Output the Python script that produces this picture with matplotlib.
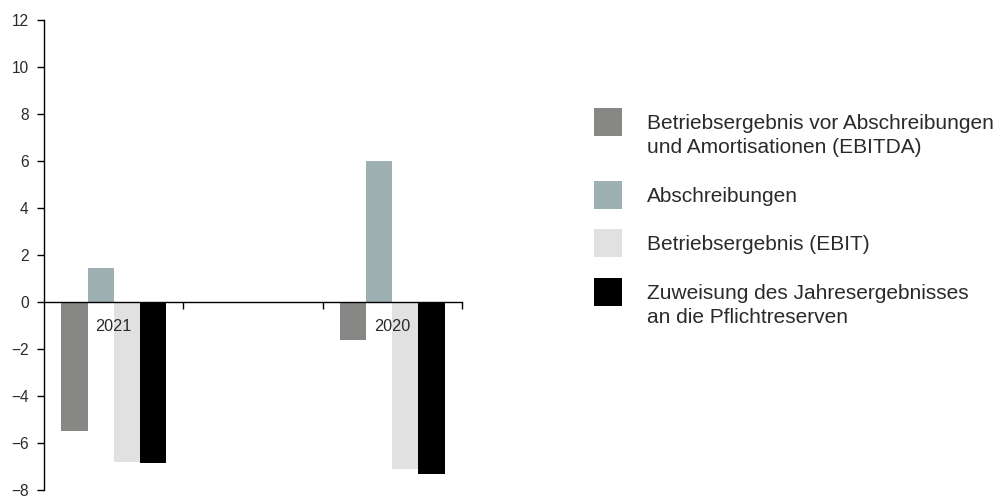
import numpy as np
import matplotlib.pyplot as plt
from matplotlib.patches import Rectangle

plt.rcParams['font.family'] = ['Liberation Sans', 'DejaVu Sans']

# categories (middle slot left empty as spacer)
years = ['2021', '', '2020']

series_names = [
    'Betriebsergebnis vor Abschreibungen\nund Amortisationen (EBITDA)',
    'Abschreibungen',
    'Betriebsergebnis (EBIT)',
    'Zuweisung des Jahresergebnisses\nan die Pflichtreserven',
]
series_colors = ['#878886', '#9fb0b2', '#e0e1e0', '#000000']

ebitda = [-5.5, np.nan, -1.6]
abschreibungen = [1.45, np.nan, 6.0]
ebit = [-6.8, np.nan, -7.1]
zuweisung = [-6.85, np.nan, -7.3]
values = [ebitda, abschreibungen, ebit, zuweisung]

yticks = [-8, -6, -4, -2, 0, 2, 4, 6, 8, 10, 12]
ytick_labels = ['\u22128', '\u22126', '\u22124', '\u22122', '0', '2', '4', '6', '8', '10', '12']

text_col = '#2a2a2a'

fig = plt.figure(figsize=(10.02, 4.97), dpi=100)
ax = fig.add_axes([44 / 1002, 7 / 497, 418 / 1002, 470 / 497])

x = np.arange(len(years))
w = 0.1875
for i, (vals, col) in enumerate(zip(values, series_colors)):
    ax.bar(x + (i - 1.5) * w, vals, width=w, color=col, linewidth=0, zorder=1)

ax.set_xlim(-0.5, 2.5)
ax.set_ylim(-8, 12)

for s in ['top', 'right']:
    ax.spines[s].set_visible(False)
ax.spines['bottom'].set_position(('data', 0))
ax.spines['bottom'].set_linewidth(1.0)
ax.spines['left'].set_linewidth(1.0)
ax.spines['bottom'].set_zorder(3)

ax.set_yticks(yticks)
ax.set_yticklabels(ytick_labels)
ax.tick_params(axis='y', direction='out', length=5, width=1, pad=6,
               labelsize=11.2, labelcolor=text_col)

# boundary ticks on the zero line, year labels under the groups
ax.set_xticks([0.5, 1.5, 2.5])
ax.set_xticklabels([])
ax.tick_params(axis='x', which='major', direction='out', length=5, width=1)
ax.set_xticks(x, minor=True)
ax.set_xticklabels(years, minor=True)
ax.tick_params(axis='x', which='minor', length=0, pad=12.5,
               labelsize=11.7, labelcolor=text_col)

# legend drawn by hand in pixel coordinates
H = 497
rows = [(108, series_names[0]), (181, series_names[1]),
        (229, series_names[2]), (278, series_names[3])]
for (top, label), col in zip(rows, series_colors):
    fig.add_artist(Rectangle((594 / 1002, (H - top - 28) / H), 28 / 1002, 28 / H,
                             transform=fig.transFigure, color=col, linewidth=0))
    for k, line in enumerate(label.split('\n')):
        base = top + 21 + k * 24
        fig.text(647 / 1002, (H - base) / H, line, fontsize=15,
                 color=text_col, va='baseline', ha='left')

fig.savefig('out.png', dpi=100)
